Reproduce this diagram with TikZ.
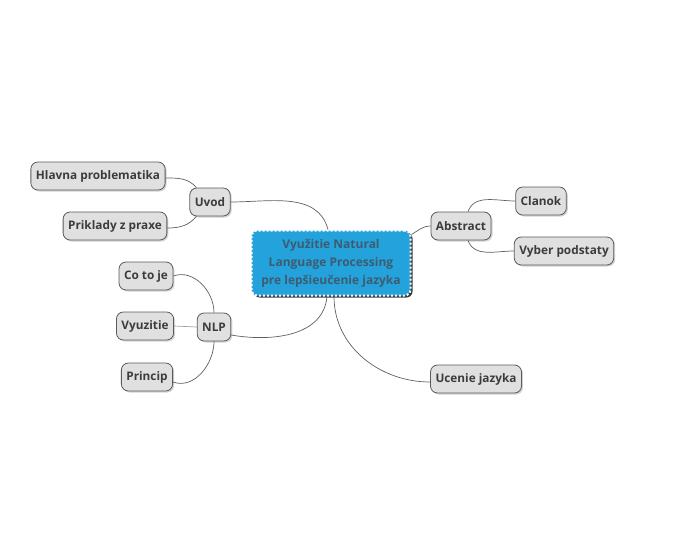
\documentclass[tikz,border=0pt]{standalone}
\usepackage{fontspec}
\setmainfont{Open Sans}
\usetikzlibrary{shadows}

\definecolor{topicfill}{RGB}{224,224,224}
\definecolor{topicline}{RGB}{90,90,90}
\definecolor{topictext}{RGB}{60,60,60}
\definecolor{mainfill}{RGB}{36,162,220}
\definecolor{maintext}{RGB}{62,92,112}
\definecolor{linkline}{RGB}{95,95,95}

\begin{document}
\begin{tikzpicture}[
    x=1pt, y=1pt,
    topic/.style={
        draw=topicline,
        fill=topicfill,
        rounded corners=7pt,
        line width=0.8pt,
        text=topictext,
        font=\bfseries\fontsize{11.8}{13}\selectfont,
        minimum height=28pt,
        inner xsep=5pt,
        drop shadow={shadow xshift=1.5pt, shadow yshift=-1.5pt, opacity=0.35}
    },
    central/.style={
        fill=mainfill,
        draw=white,
        line width=2pt,
        dash pattern=on 2pt off 2pt,
        rounded corners=6pt,
        text=maintext,
        align=center,
        font=\bfseries\fontsize{12}{18}\selectfont,
        minimum width=159pt,
        minimum height=65pt,
        inner xsep=3pt,
        drop shadow={shadow xshift=2pt, shadow yshift=-2pt, opacity=0.9, fill=black!85}
    },
    link/.style={draw=linkline, line width=0.7pt}
]
\useasboundingbox (0,0) rectangle (689,-538);

\node[central] (main) at (331,-263) {Využitie Natural\\Language Processing\\pre lepšieučenie jazyka};

\node[topic] (uvod) at (210,-202) {Uvod};
\node[topic] (hlavna) at (98,-176) {Hlavna problematika};
\node[topic] (priklady) at (115,-226) {Priklady z praxe};

\node[topic] (abstract) at (461,-226) {Abstract};
\node[topic] (clanok) at (541,-201) {Clanok};
\node[topic] (vyber) at (564,-251) {Vyber podstaty};

\node[topic] (nlp) at (214,-327) {NLP};
\node[topic] (cotoje) at (146,-276) {Co to je};
\node[topic] (vyuzitie) at (145,-326) {Vyuzitie};
\node[topic] (princip) at (147,-377) {Princip};

\node[topic] (ucenie) at (476,-379) {Ucenie jazyka};

% prepojenia na hlavnu temu
\draw[link] (uvod.east) to[out=0, in=105] ([xshift=-3pt]main.north);
\draw[link] ([yshift=-5pt]main.north east) to[out=30, in=180] (abstract.west);
\draw[link] ([yshift=-8pt]nlp.east) to[out=-10, in=-95] ([xshift=-4pt]main.south);
\draw[link] ([xshift=3pt]main.south) to[out=-90, in=180] ([yshift=-3pt]ucenie.west);

% podtemy
\draw[link] ([yshift=-2pt]hlavna.east) to[out=0, in=130] ([xshift=7pt]uvod.north west);
\draw[link] ([yshift=-2pt]priklady.east) to[out=0, in=-130] ([xshift=7pt]uvod.south west);
\draw[link] (cotoje.east) to[out=20, in=90] (nlp.north);
\draw[link, draw=linkline!60] (vyuzitie.east) -- (nlp.west);
\draw[link] ([yshift=-5pt]princip.east) to[out=-20, in=-90] (nlp.south);
\draw[link] ([xshift=7pt]abstract.north) to[out=70, in=180] (clanok.west);
\draw[link] ([xshift=7pt]abstract.south) to[out=-70, in=180] (vyber.west);
\end{tikzpicture}
\end{document}
